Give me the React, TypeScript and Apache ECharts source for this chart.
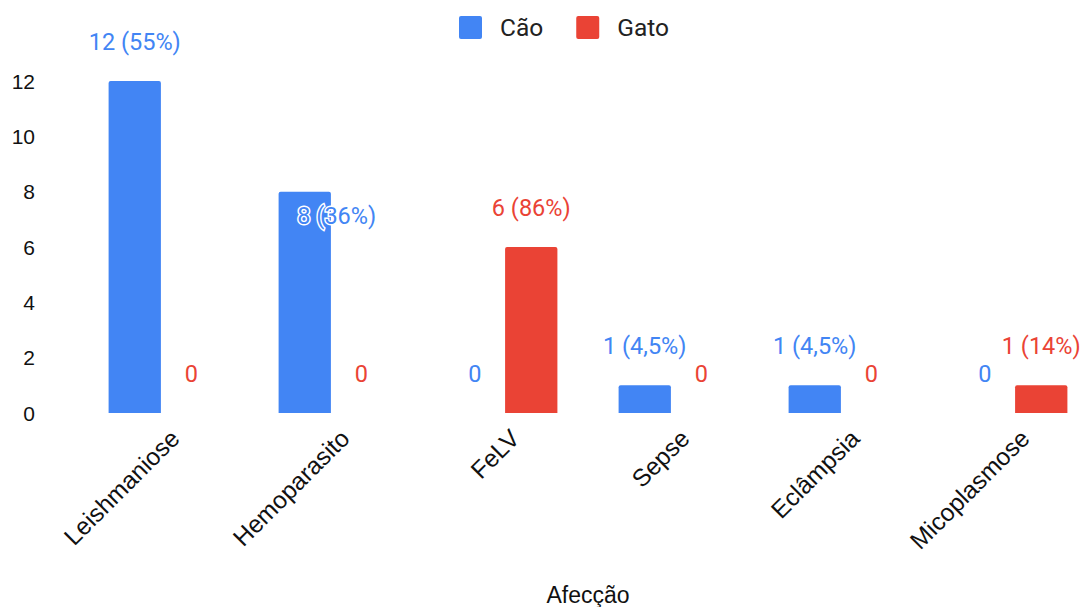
import React, { useEffect, useRef } from "react";
import * as echarts from "echarts";

const categories = ["Leishmaniose", "Hemoparasito", "FeLV", "Sepse", "Eclâmpsia", "Micoplasmose"];
const caoValues = [12, 8, 0, 1, 1, 0];
const gatoValues = [0, 0, 6, 0, 0, 1];
const caoPct = ["55%", "36%", "", "4,5%", "4,5%", ""];
const gatoPct = ["", "", "86%", "", "", "14%"];
const yTicks = [0, 2, 4, 6, 8, 10, 12];

const BLUE = "#4285F4";
const RED = "#EA4335";

const SQUARE_ICON =
  "path://M2,0 L21,0 Q23,0 23,2 L23,21 Q23,23 21,23 L2,23 Q0,23 0,21 L0,2 Q0,0 2,0 Z";

function fmt(v: number, pct: string) {
  return v === 0 ? "0" : `${v} (${pct})`;
}

export default function App() {
  const ref = useRef<HTMLDivElement>(null);
  useEffect(() => {
    const chart = echarts.init(ref.current!, null, { renderer: "svg" });
    const labelBase = {
      show: true,
      position: "top" as const,
      distance: 27,
      fontFamily: "Roboto",
      fontSize: 23.5,
    };
    chart.setOption({
      animation: false,
      backgroundColor: "#fff",
      legend: {
        top: 10,
        left: 454,
        itemWidth: 23,
        itemHeight: 23,
        itemGap: 33,
        icon: SQUARE_ICON,
        textStyle: { fontFamily: "Roboto", fontSize: 24.5, color: "#222", padding: [0, 0, 0, 13] },
        data: ["Cão", "Gato"],
      },
      grid: { left: 78, right: -17, top: 81, bottom: 194, containLabel: false, outerBoundsMode: "none" },
      xAxis: {
        type: "category",
        data: categories,
        name: "Afecção",
        nameLocation: "middle",
        nameGap: 170,
        nameTextStyle: { fontFamily: "Liberation Sans", fontSize: 23, color: "#111" },
        axisLine: { show: false },
        axisTick: { show: false },
        axisLabel: {
          rotate: 45,
          interval: 0,
          margin: 9,
          verticalAlign: "top",
          lineHeight: 34,
          fontFamily: "Liberation Sans",
          fontSize: 24.5,
          color: "#111",
        },
      },
      yAxis: {
        type: "value",
        min: yTicks[0],
        max: yTicks[yTicks.length - 1],
        interval: 2,
        splitLine: { show: false },
        axisLine: { show: false },
        axisTick: { show: false },
        axisLabel: {
          margin: 43,
          fontFamily: "Liberation Sans",
          fontSize: 21,
          color: "#111",
        },
      },
      series: [
        {
          name: "Cão",
          type: "bar",
          barCategoryGap: "36%",
          barGap: "8%",
          itemStyle: { color: BLUE, borderRadius: [2, 2, 0, 0] },
          label: { ...labelBase, color: BLUE },
          data: caoValues.map((v, i) => {
            const item: any = {
              value: v,
              label: { formatter: fmt(v, caoPct[i]) },
            };
            if (i === 1) {
              item.label.offset = [32, 63];
              item.label.textBorderColor = "#fff";
              item.label.textBorderWidth = 3;
            }
            return item;
          }),
        },
        {
          name: "Gato",
          type: "bar",
          barCategoryGap: "36%",
          barGap: "8%",
          itemStyle: { color: RED, borderRadius: [2, 2, 0, 0] },
          label: { ...labelBase, color: RED },
          data: gatoValues.map((v, i) => ({
            value: v,
            label: { formatter: fmt(v, gatoPct[i]) },
          })),
        },
      ],
    });
    return () => chart.dispose();
  }, []);
  return (
    <div
      ref={ref}
      style={{ position: "absolute", left: 0, top: 0, width: 1081, height: 607 }}
    />
  );
}
